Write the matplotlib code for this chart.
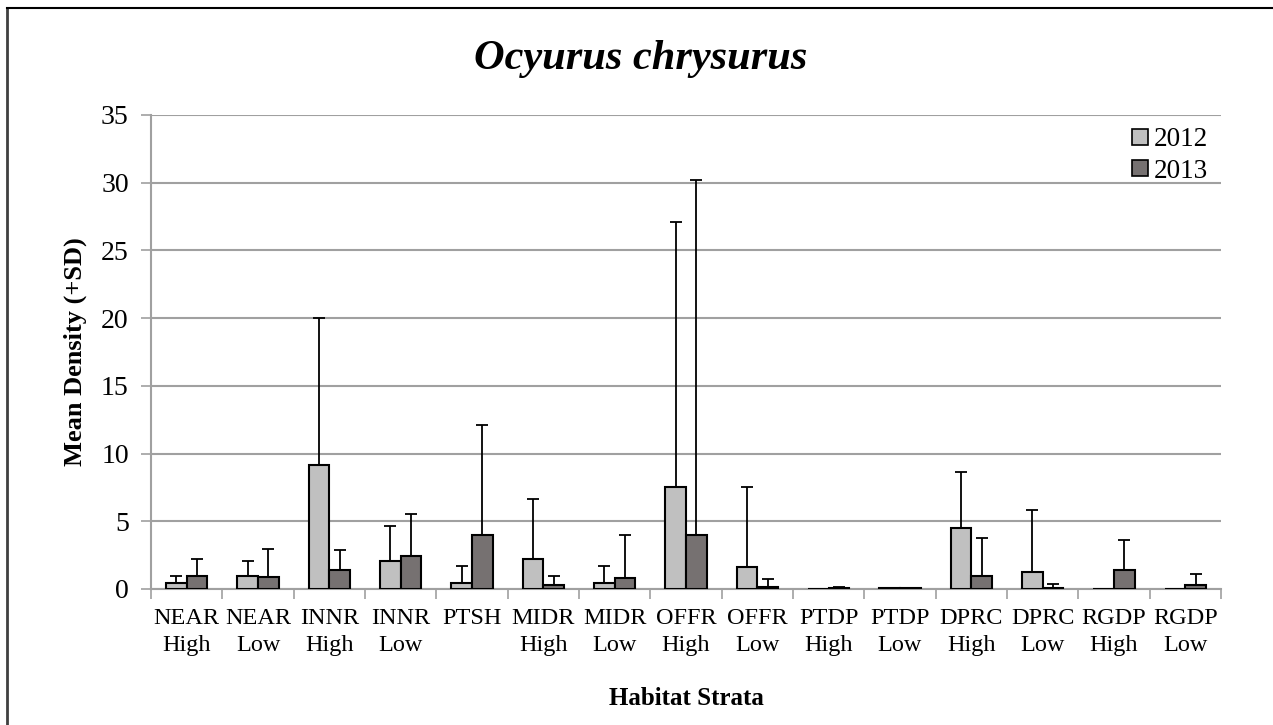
import matplotlib.pyplot as plt
import numpy as np
from matplotlib.lines import Line2D

strata = ["NEAR\nHigh", "NEAR\nLow", "INNR\nHigh", "INNR\nLow", "PTSH",
          "MIDR\nHigh", "MIDR\nLow", "OFFR\nHigh", "OFFR\nLow", "PTDP\nHigh",
          "PTDP\nLow", "DPRC\nHigh", "DPRC\nLow", "RGDP\nHigh", "RGDP\nLow"]

# mean density per stratum and the upper SD end (mean + SD)
mean_2012 = [0.44, 0.98, 9.13, 2.07, 0.47, 2.24, 0.44, 7.51, 1.65, 0.0,
             0.05, 4.53, 1.23, 0.0, 0.0]
top_2012 = [0.96, 2.07, 20.04, 4.68, 1.70, 6.62, 1.70, 27.08, 7.51, 0.0,
            0.07, 8.62, 5.86, 0.0, 0.0]
mean_2013 = [0.98, 0.91, 1.40, 2.41, 4.00, 0.30, 0.79, 4.01, 0.17, 0.08,
             0.05, 0.98, 0.10, 1.38, 0.30]
top_2013 = [2.20, 2.98, 2.90, 5.56, 12.13, 0.96, 3.99, 30.23, 0.72, 0.12,
            0.07, 3.79, 0.37, 3.64, 1.11]

plt.rcParams['font.family'] = ['Liberation Serif', 'DejaVu Serif']

fig = plt.figure(figsize=(12.73, 7.25), dpi=100)
ax = fig.add_axes([0.1186, 0.1876, 0.8405, 0.6538])

x = np.arange(len(strata))
w = 0.29
c12 = '#c0c0c0'
c13 = '#767171'

ax.bar(x - w / 2, mean_2012, w, color=c12, edgecolor='black', linewidth=1.5, zorder=3)
ax.bar(x + w / 2, mean_2013, w, color=c13, edgecolor='black', linewidth=1.5, zorder=3)

err12 = np.array(top_2012) - np.array(mean_2012)
err13 = np.array(top_2013) - np.array(mean_2013)
ax.errorbar(x - w / 2, mean_2012, yerr=[np.zeros(len(x)), err12], fmt='none',
            ecolor='black', elinewidth=1.3, capsize=4.5, capthick=1.3, zorder=2)
ax.errorbar(x + w / 2, mean_2013, yerr=[np.zeros(len(x)), err13], fmt='none',
            ecolor='black', elinewidth=1.3, capsize=4.5, capthick=1.3, zorder=2)

ax.set_xlim(-0.5, len(strata) - 0.5)
ax.set_ylim(0, 35)
ax.set_yticks(np.arange(0, 36, 5))
ax.yaxis.grid(True, color='#a0a0a0', linewidth=1.5, zorder=0)

ax.set_xticks(x)
ax.set_xticklabels(strata, fontsize=17.5, linespacing=1.35)
ax.set_xticks(np.arange(-0.5, len(strata), 1), minor=True)
ax.tick_params(axis='x', which='major', length=0, pad=14)
ax.tick_params(axis='x', which='minor', length=7, color='#a0a0a0', width=1.2)
ax.tick_params(axis='y', labelsize=20, length=7, color='#a0a0a0', width=1.2, pad=9)

for side in ['top', 'right']:
    ax.spines[side].set_visible(False)
for side in ['left', 'bottom']:
    ax.spines[side].set_color('#a0a0a0')
    ax.spines[side].set_linewidth(1.5)

ax.set_ylabel('Mean Density (+SD)', fontsize=19, fontweight='bold', labelpad=10)
ax.set_xlabel('Habitat Strata', fontsize=18, fontweight='bold', labelpad=22)
fig.text(0.503, 0.919, 'Ocyurus chrysurus', fontsize=30.5, fontweight='bold',
         fontstyle='italic', ha='center', va='center')

handles = [Line2D([], [], marker='s', linestyle='none', markersize=11,
                  markerfacecolor=c12, markeredgecolor='black', markeredgewidth=1.2),
           Line2D([], [], marker='s', linestyle='none', markersize=11,
                  markerfacecolor=c13, markeredgecolor='black', markeredgewidth=1.2)]
ax.legend(handles, ['2012', '2013'], loc='upper right', bbox_to_anchor=(1.008, 1.02),
          frameon=False, fontsize=19.5, handletextpad=0.1, handlelength=0.8,
          labelspacing=0.25, borderpad=0.3)

# outer frame, left and top edges only
fig.add_artist(Line2D([0.0055, 0.0055], [0, 0.989], color='#404040', linewidth=2,
                      transform=fig.transFigure))
fig.add_artist(Line2D([0.0055, 1.0], [0.989, 0.989], color='black', linewidth=1.5,
                      transform=fig.transFigure))

fig.savefig('out.png', dpi=100)
